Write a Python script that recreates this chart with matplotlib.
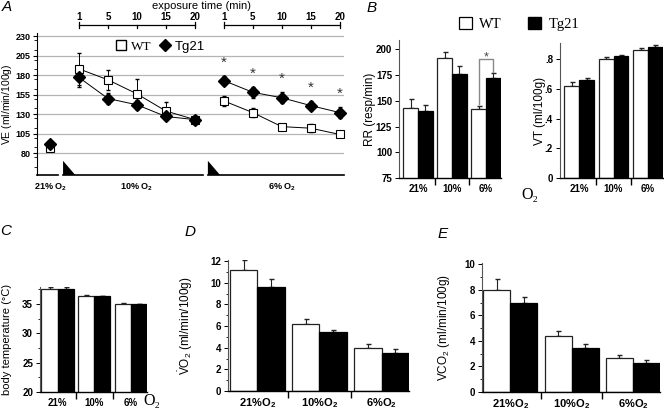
import matplotlib
matplotlib.use("Agg")
import matplotlib.pyplot as plt
import numpy as np
from matplotlib.lines import Line2D
from matplotlib.patches import Patch
from matplotlib.ticker import MultipleLocator, FuncFormatter

plt.rcParams['font.family'] = ['Liberation Sans', 'DejaVu Sans']
plt.rcParams['mathtext.fontset'] = 'custom'
plt.rcParams['mathtext.rm'] = 'Liberation Sans'
plt.rcParams['mathtext.it'] = 'Liberation Sans:italic'
plt.rcParams['mathtext.bf'] = 'Liberation Sans:bold'

W, H = 664, 411

# ---- panel A: ventilation time course
time_labels = [1, 5, 10, 15, 20]
a_wt_21 = [86]
a_wt_21_err = [3]
a_tg_21 = [92]
a_tg_21_err = [3]
a_wt_10 = [188, 174, 156, 134, 123]
a_wt_10_err = [21, 13, 19, 12, 4]
a_tg_10 = [177, 150, 142, 127, 123]
a_tg_10_err = [12, 7, 6, 5, 5]
a_wt_6 = [147, 132, 114, 112, 104]
a_wt_6_err = [6, 6, 4, 5, 3]
a_tg_6 = [173, 158, 151, 141, 132]
a_tg_6_err = [6, 7, 7, 6, 7]
a_yticks = [80, 105, 130, 155, 180, 205, 230]

# ---- bar panels (21%, 10%, 6% O2)
o2_labels = ["21%", "10%", "6%"]
rr_wt = [143, 192, 142]
rr_wt_err = [9, 5, 3]
rr_tg = [140, 176, 172]
rr_tg_err = [6, 8, 4.5]
vt_wt = [0.617, 0.800, 0.866]
vt_wt_err = [0.03, 0.015, 0.007]
vt_tg = [0.658, 0.819, 0.886]
vt_tg_err = [0.018, 0.013, 0.013]
temp_wt = [37.5, 36.4, 35.05]
temp_wt_err = [0.4, 0.08, 0.08]
temp_tg = [37.6, 36.3, 34.95]
temp_tg_err = [0.25, 0.08, 0.05]
vo2_wt = [11.2, 6.17, 3.94]
vo2_wt_err = [0.9, 0.5, 0.4]
vo2_tg = [9.57, 5.44, 3.49]
vo2_tg_err = [0.75, 0.22, 0.4]
vco2_wt = [7.97, 4.36, 2.68]
vco2_wt_err = [0.85, 0.44, 0.23]
vco2_tg = [6.96, 3.45, 2.29]
vco2_tg_err = [0.5, 0.32, 0.18]


def box(l, t, r, b):
    return [l / W, 1 - b / H, (r - l) / W, (b - t) / H]


fig = plt.figure(figsize=(W / 100, H / 100), dpi=100)

# ================= panel A
axA = fig.add_axes(box(37, 33, 344, 175))
pos_21 = np.array([0])
pos_10 = np.arange(1, 6)
pos_6 = np.arange(6, 11)

for ys in a_yticks:
    axA.axhline(ys, color='#b4b4b4', lw=0.9, zorder=0)

for pos, wt, wte, tg, tge in [(pos_21, a_wt_21, a_wt_21_err, a_tg_21, a_tg_21_err),
                              (pos_10, a_wt_10, a_wt_10_err, a_tg_10, a_tg_10_err),
                              (pos_6, a_wt_6, a_wt_6_err, a_tg_6, a_tg_6_err)]:
    axA.errorbar(pos, wt, yerr=wte, fmt='none', ecolor='black', elinewidth=0.7,
                 capsize=1.5, zorder=2, clip_on=False)
    axA.errorbar(pos, tg, yerr=tge, fmt='none', ecolor='black', elinewidth=0.7,
                 capsize=1.5, zorder=2, clip_on=False)
    axA.plot(pos, wt, '-s', color='black', lw=0.7, mfc='white', mec='black',
             ms=5.5, mew=0.8, zorder=3, clip_on=False)
    axA.plot(pos, tg, '-D', color='black', lw=0.7, mfc='black', mec='black',
             ms=6, zorder=4, clip_on=False)

for x, y, e in zip(pos_6, a_tg_6, a_tg_6_err):
    axA.text(x, y + e + 17, '*', ha='center', va='center', fontsize=11, color='#333333')

axA.set_xlim(-0.45, 10.15)
axA.set_ylim(52, 234)
axA.set_yticks(a_yticks)
axA.yaxis.set_minor_locator(MultipleLocator(12.5))
axA.tick_params(axis='y', which='major', length=3, width=0.8, labelsize=6.5, pad=1.5)
axA.tick_params(axis='y', which='minor', length=2, width=0.6)
for lab in axA.get_yticklabels():
    lab.set_fontweight('bold')
axA.set_xticks([])
for s in ['top', 'right', 'bottom']:
    axA.spines[s].set_visible(False)
axA.spines['left'].set_linewidth(0.8)
axA.set_ylabel(r'$\dot{\mathrm{V}}$E (ml/min/100g)', fontsize=7.5)
axA.yaxis.set_label_coords(-0.073, 0.5)

trA = axA.get_xaxis_transform()
xl = axA.get_xlim()
# phase bars under the time course
phases = [(xl[0], pos_21[-1] + 0.28, False),
          (pos_10[0] - 0.55, pos_10[-1] + 0.28, True),
          (pos_6[0] - 0.55, xl[1], True)]
for x0, x1, ramp in phases:
    axA.plot([x0, x1], [0, 0], color='black', lw=1.2, transform=trA, clip_on=False)
    if ramp:
        axA.fill([x0, x0, x0 + 0.42], [0, 0.1, 0], color='black', transform=trA,
                 clip_on=False, lw=0)
for pos, lab in [(pos_21, r'$\mathbf{21\%\ O_2}$'), (pos_10, r'$\mathbf{10\%\ O_2}$'),
                 (pos_6, r'$\mathbf{6\%\ O_2}$')]:
    axA.text(pos.mean(), -0.085, lab, transform=trA, ha='center', va='center', fontsize=6.5)

# exposure time scale on top
for pos in [pos_10, pos_6]:
    axA.plot([pos[0], pos[-1]], [1.059, 1.059], color='black', lw=0.9,
             transform=trA, clip_on=False)
    for i, (x, t) in enumerate(zip(pos, time_labels)):
        lo, hi = (1.035, 1.08) if i in (0, len(pos) - 1) else (1.035, 1.059)
        axA.plot([x, x], [lo, hi], color='black', lw=0.9, transform=trA, clip_on=False)
        axA.text(x, 1.115, str(t), transform=trA, ha='center', va='center',
                 fontsize=7, fontweight='bold')
axA.text((202 - 37) / 307, (175 - 6.5) / 142, 'exposure time (min)', transform=axA.transAxes,
         ha='center', va='center', fontsize=8)

legA = axA.legend(handles=[Line2D([], [], marker='s', ls='none', mfc='white', mec='black', ms=7),
                           Line2D([], [], marker='D', ls='none', mfc='black', mec='black', ms=6.5)],
                  labels=['WT', 'Tg21'], loc='center', bbox_to_anchor=(0.40, 0.903),
                  ncol=2, frameon=False, handletextpad=0.2, columnspacing=0.5,
                  handlelength=1.0, borderpad=0)
legA.get_texts()[0].set_family(['Liberation Serif', 'DejaVu Serif'])
legA.get_texts()[0].set_fontsize(9.5)
legA.get_texts()[1].set_fontsize(9.5)


# ================= bar panels
def bar_panel(ax, wt, wt_err, tg, tg_err, xlim, ylim, labels, lab_size=7, width=0.43):
    x = np.arange(len(wt))
    ax.bar(x - width / 2, wt, width, color='white', edgecolor='#222222', lw=0.9, zorder=2)
    ax.bar(x + width / 2, tg, width, color='black', edgecolor='black', lw=0.9, zorder=2)
    zeros = np.zeros(len(wt))
    ax.errorbar(x - width / 2, wt, yerr=[zeros, wt_err], fmt='none', ecolor='#222222',
                elinewidth=0.8, capsize=1.8, zorder=1)
    ax.errorbar(x + width / 2, tg, yerr=[zeros, tg_err], fmt='none', ecolor='#222222',
                elinewidth=0.8, capsize=1.8, zorder=1)
    ax.set_xlim(xlim)
    ax.set_ylim(ylim)
    for s in ['top', 'right']:
        ax.spines[s].set_visible(False)
    ax.spines['left'].set_color('#555555')
    ax.spines['bottom'].set_linewidth(1.0)
    ax.set_xticks(x)
    ax.set_xticklabels(labels, fontsize=lab_size, fontweight='bold')
    ax.tick_params(axis='x', which='major', length=0, pad=4)
    ax.set_xticks(x[:-1] + 0.5, minor=True)
    ax.tick_params(axis='x', which='minor', length=5, width=1.0)
    ax.tick_params(axis='y', which='major', length=3, width=0.7, labelsize=7, pad=2)
    ax.tick_params(axis='y', which='minor', length=1.8, width=0.6)
    return x, width


def bold_yticks(ax):
    for lab in ax.get_yticklabels():
        lab.set_fontweight('bold')


# RR
axRR = fig.add_axes(box(399, 40, 501, 178))
xb, wb = bar_panel(axRR, rr_wt, rr_wt_err, rr_tg, rr_tg_err, (-0.56, 2.44), (75, 209), o2_labels)
axRR.set_yticks([75, 100, 125, 150, 175, 200])
bold_yticks(axRR)
axRR.set_ylabel('RR (resp/min)', fontsize=8.5)
axRR.yaxis.set_label_coords(-0.225, 0.5)
# significance bracket at 6%
x0, x1 = xb[2] - wb / 2, xb[2] + wb / 2
top = 191
axRR.plot([x0, x0, x1, x1],
          [rr_wt[2] + rr_wt_err[2] + 2, top, top, rr_tg[2] + rr_tg_err[2] + 1],
          color='#888888', lw=1.0, zorder=3)
axRR.text((x0 + x1) / 2, top + 1, '*', ha='center', va='center', fontsize=9, color='#444444')

# VT
axVT = fig.add_axes(box(560, 43, 663, 178))
bar_panel(axVT, vt_wt, vt_wt_err, vt_tg, vt_tg_err, (-0.56, 2.44), (0, 0.91), o2_labels)
axVT.set_yticks([0, 0.2, 0.4, 0.6, 0.8])
axVT.yaxis.set_major_formatter(FuncFormatter(lambda v, p: '0' if v == 0 else f'{v:.1f}'.lstrip('0')))
bold_yticks(axVT)
axVT.set_ylabel('VT (ml/100g)', fontsize=8.5)
axVT.yaxis.set_label_coords(-0.136, 0.5)

fig.legend(handles=[Patch(facecolor='white', edgecolor='black', lw=0.9),
                    Patch(facecolor='black', edgecolor='black')],
           labels=['WT', 'Tg21'], loc='center', bbox_to_anchor=(519 / W, 1 - 24 / H),
           ncol=2, frameon=False, handlelength=0.9, handleheight=0.9,
           handletextpad=0.5, columnspacing=1.8, borderpad=0,
           prop={'family': ['Liberation Serif', 'DejaVu Serif'], 'size': 10.5})
fig.text(530 / W, 1 - 195 / H, 'O\u2082', ha='center', va='center', fontsize=11.5,
         family=['Liberation Serif', 'DejaVu Serif'])

# C: body temperature
axC = fig.add_axes(box(40, 287, 147, 392))
bar_panel(axC, temp_wt, temp_wt_err, temp_tg, temp_tg_err, (-0.48, 2.44), (20, 37.9), o2_labels,
          width=0.44)
axC.set_yticks([20, 25, 30, 35])
axC.yaxis.set_minor_locator(MultipleLocator(2.5))
bold_yticks(axC)
axC.set_ylabel('body temperature (\u00b0C)', fontsize=8)
axC.yaxis.set_label_coords(-0.262, 0.5)
fig.text(152 / W, 1 - 401 / H, 'O\u2082', ha='center', va='center', fontsize=11.5,
         family=['Liberation Serif', 'DejaVu Serif'])

o2_sub = [r'$\mathbf{21\%O_2}$', r'$\mathbf{10\%O_2}$', r'$\mathbf{6\%O_2}$']

# D: VO2
axD = fig.add_axes(box(228, 260, 409, 391))
bar_panel(axD, vo2_wt, vo2_wt_err, vo2_tg, vo2_tg_err, (-0.47, 2.44), (0, 12.1), o2_sub,
          lab_size=8, width=0.44)
axD.set_yticks([0, 2, 4, 6, 8, 10, 12])
axD.yaxis.set_minor_locator(MultipleLocator(1))
bold_yticks(axD)
axD.set_ylabel(r'$\dot{\mathrm{V}}$O$_2$ (ml/min/100g)', fontsize=8.5)
axD.yaxis.set_label_coords(-0.182, 0.5)

# E: VCO2
axE = fig.add_axes(box(482, 263, 660, 392))
bar_panel(axE, vco2_wt, vco2_wt_err, vco2_tg, vco2_tg_err, (-0.46, 2.44), (0, 10.1), o2_sub,
          lab_size=8, width=0.44)
axE.set_yticks([0, 2, 4, 6, 8, 10])
axE.yaxis.set_minor_locator(MultipleLocator(1))
bold_yticks(axE)
axE.set_ylabel(r'VCO$_2$ (ml/min/100g)', fontsize=8.5)
axE.yaxis.set_label_coords(-0.169, 0.5)

# panel letters
for lab, px, py in [('A', 7, 7), ('B', 372, 8), ('C', 6, 231), ('D', 190, 232), ('E', 443, 234)]:
    fig.text(px / W, 1 - py / H, lab, ha='center', va='center', fontsize=11, style='italic')

fig.savefig('out.png', dpi=100)
